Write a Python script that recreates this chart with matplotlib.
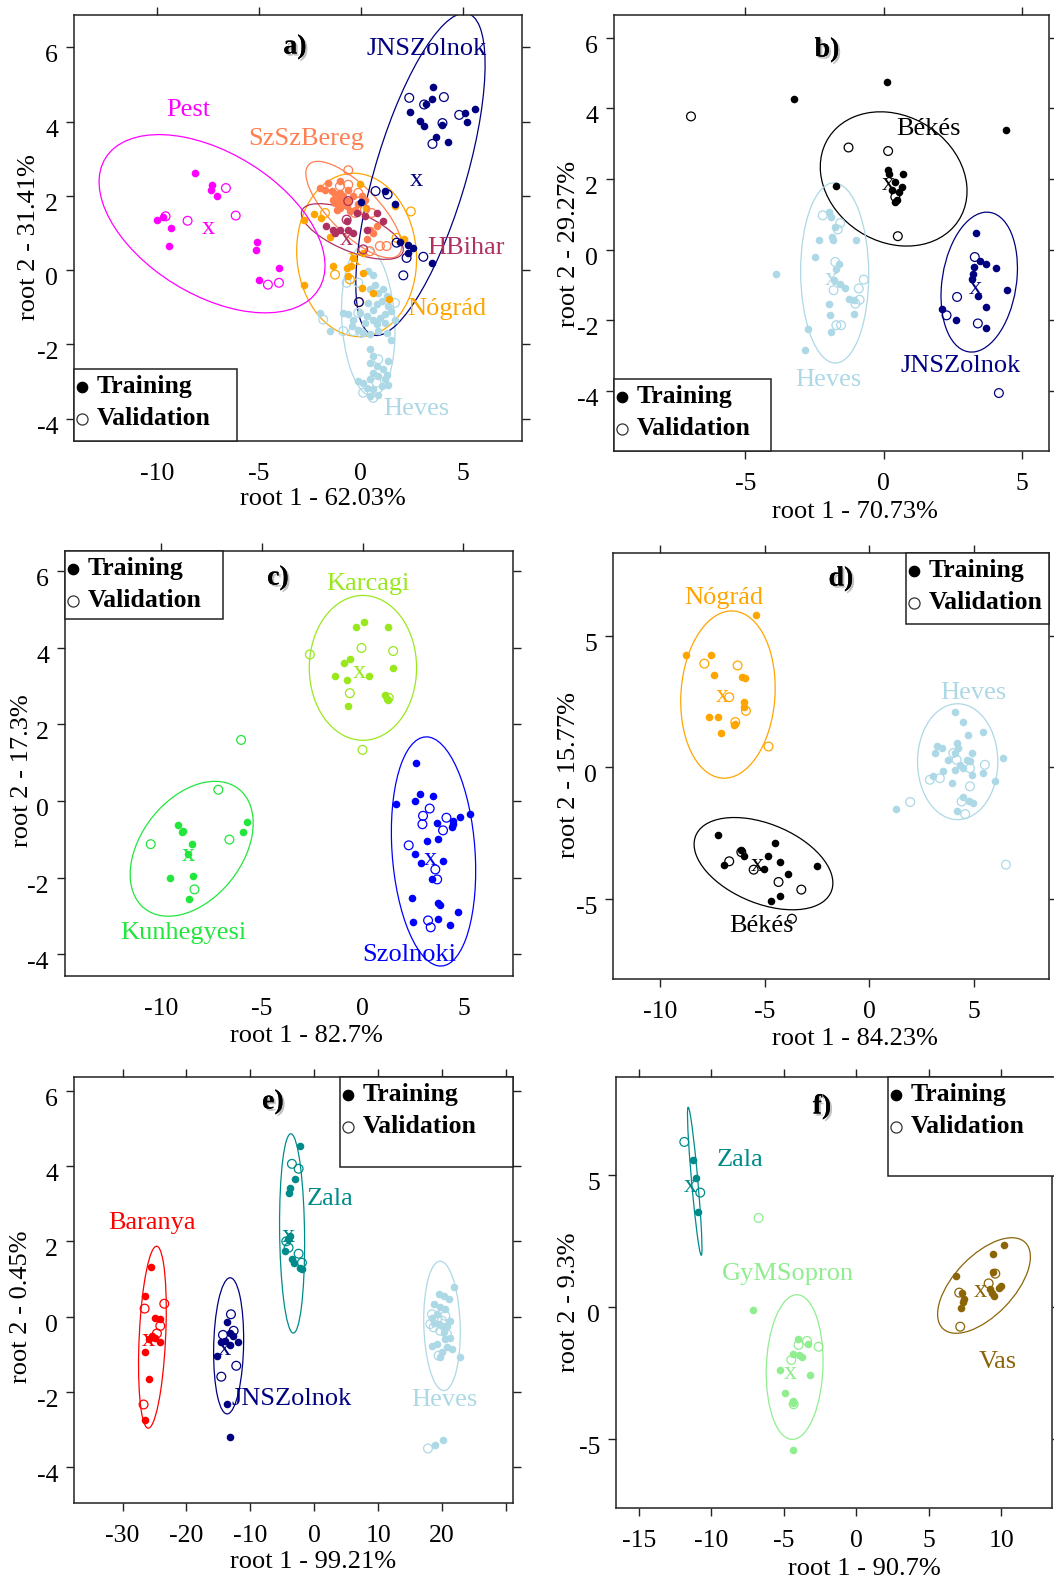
import numpy as np
import matplotlib.pyplot as plt
import matplotlib.transforms as transforms
import matplotlib.patheffects as pe
from matplotlib.patches import Ellipse, Rectangle

plt.rcParams['font.family'] = ['Liberation Serif', 'DejaVu Serif']
plt.rcParams['axes.unicode_minus'] = False

# ---------------- panel a ----------------
a_pest_tr = [(-8.14, 2.62), (-7.32, 2.30), (-7.37, 2.17), (-7.08, 2.01), (-10.02, 1.35), (-9.69, 1.43),
             (-9.32, 1.13), (-9.41, 0.66), (-5.11, 0.76), (-5.15, 0.54), (-4.0, 0.05), (-4.99, -0.27)]
a_pest_va = [(-6.62, 2.21), (-6.14, 1.47), (-8.5, 1.33), (-9.58, 1.45), (-4.56, -0.39), (-4.02, -0.34)]
a_jns_tr = [(3.55, 4.93), (3.50, 4.61), (3.19, 4.48), (2.43, 4.25), (2.92, 4.01), (3.10, 3.87), (4.0, 3.92),
            (5.10, 4.23), (5.59, 4.35), (5.18, 3.98), (3.68, 3.58), (4.28, 3.44), (1.18, 2.13), (0.0, 1.83),
            (1.67, 1.78), (1.91, 0.75), (2.32, 0.69), (2.57, 0.60), (2.32, 0.47), (3.51, 0.20)]
a_jns_va = [(2.37, 4.64), (3.10, 4.46), (4.07, 4.66), (4.82, 4.18), (4.0, 3.96), (3.51, 3.40), (0.72, 2.13),
            (1.31, 2.04), (1.75, 0.74), (2.24, 0.33), (3.06, 0.36), (2.08, -0.14), (-0.10, -0.86)]
a_szsz_tr = [(-1.60, 2.35), (-1.03, 2.39), (-1.44, 2.13), (-1.27, 2.04), (-1.03, 2.08), (-0.87, 1.99),
             (-0.78, 1.90), (-1.11, 1.90), (-0.62, 1.86), (-0.38, 1.99), (-1.76, 2.17), (-1.27, 1.81),
             (-0.95, 1.77), (-0.70, 1.72), (-0.54, 1.59), (-0.29, 1.63), (-1.19, 1.63), (-1.03, 1.68),
             (0.03, 1.99), (0.20, 1.90), (-0.62, 2.17), (-0.13, 1.77), (-1.36, 1.90), (-2.0, 2.21),
             (0.44, 1.09), (0.77, 1.18), (0.60, 1.0), (0.28, 0.83)]
a_szsz_va = [(-0.62, 2.69), (-1.03, 2.26), (-0.62, 2.30), (-0.13, 2.08), (-0.29, 1.54), (0.20, 1.63),
             (0.52, 1.54), (0.93, 0.65), (1.26, 0.65), (0.44, 0.51)]
a_hbihar_tr = [(-1.72, 1.18), (-1.36, 1.09), (-1.03, 1.09), (-0.70, 1.32), (-0.38, 1.0), (0.20, 1.45),
               (1.09, 1.32), (-0.21, 1.54), (-0.62, 1.09), (-1.27, 1.0), (0.28, 1.09), (0.77, 1.54)]
a_hbihar_va = [(-0.70, 1.36), (0.11, 0.56), (-0.62, 1.86)]
a_nograd_tr = [(-0.05, 2.32), (-2.30, 1.52), (-1.98, 1.41), (-2.78, 1.35), (-1.52, 0.90), (-1.36, 0.11),
               (-0.70, 0.06), (-0.51, 0.11), (-0.62, -0.16), (0.11, -0.07), (0.03, -0.48), (0.60, -0.61),
               (1.39, -0.77), (-2.78, -0.41), (1.67, 1.72), (2.11, 0.84), (0.25, 1.68), (-0.38, 0.33),
               (0.11, 0.47)]
a_nograd_va = [(-1.76, 1.54), (2.45, 1.58), (-1.27, -0.12), (-0.54, -0.25), (-0.08, -0.86), (1.75, 0.87)]
a_heves_tr = [(0.36, -0.03), (0.60, -0.12), (0.69, -0.39), (0.44, -0.52), (0.85, -0.61), (1.09, -0.52),
              (1.26, -0.70), (1.01, -0.83), (0.77, -0.92), (1.34, -0.97), (1.50, -1.10), (1.18, -1.19),
              (0.93, -1.28), (0.60, -1.33), (0.28, -1.24), (-0.05, -1.15), (-0.38, -1.33), (-0.62, -1.19),
              (-0.87, -1.15), (-0.46, -1.51), (-0.13, -1.60), (0.11, -1.69), (0.44, -1.73), (0.85, -1.64),
              (1.26, -1.69), (1.50, -1.87), (1.67, -1.33), (0.60, -1.06), (0.36, -0.88), (1.18, -1.42),
              (0.77, -1.46), (0.20, -1.42), (0.44, -2.13), (0.60, -2.31), (0.44, -2.49), (0.77, -2.58),
              (1.09, -2.67), (1.34, -2.45), (0.60, -2.76), (0.85, -2.85), (1.18, -2.94), (0.44, -2.94),
              (0.11, -3.03), (-0.13, -2.99), (0.28, -3.17), (0.60, -3.21), (1.01, -3.12), (1.34, -3.08),
              (0.85, -3.35), (0.44, -3.39), (1.26, -2.81), (-1.52, -1.64), (-2.0, -1.15)]
a_heves_va = [(-0.13, -0.34), (-0.87, -1.64), (-0.38, -1.64), (0.03, -1.69), (1.67, -0.88), (-0.13, -1.15),
              (0.85, -2.40), (0.77, -3.03), (0.11, -3.30), (0.60, -3.44), (-1.85, -1.33), (-0.70, -0.34)]
a_centroids = {'pest': (-7.48, 1.14), 'jns': (2.73, 2.44), 'hbihar': (-0.70, 0.84), 'nograd': (-0.30, 0.30)}
# ellipse: centre x, centre y, x spread, y spread, correlation
a_ellipses = {'pest': (-7.3, 1.25, 5.54, 2.40, -0.47), 'jns': (2.92, 2.58, 3.17, 4.34, 0.68),
              'szsz': (-0.35, 1.63, 2.35, 1.30, -0.75), 'hbihar': (-0.42, 1.04, 2.50, 0.75, -0.65),
              'nograd': (-0.21, 0.41, 2.94, 2.20, -0.05), 'heves': (0.36, -1.37, 1.31, 2.02, -0.15)}

# ---------------- panel b ----------------
b_bekes_tr = [(-3.25, 4.25), (0.12, 4.74), (4.42, 3.38), (-1.72, 1.79), (0.16, 2.25), (0.18, 2.15),
              (0.69, 2.15), (0.42, 1.92), (0.66, 1.77), (0.54, 1.63), (0.48, 1.40), (0.42, 1.35), (0.30, 1.68)]
b_bekes_va = [(-6.96, 3.77), (-1.27, 2.89), (0.16, 2.79), (0.51, 0.38), (0.42, 1.49)]
b_heves_tr = [(-1.99, 1.07), (-1.90, 0.92), (-1.75, 0.64), (-1.87, 0.36), (-1.83, 0.26), (-2.33, 0.28),
              (-0.99, 0.28), (-2.47, -0.21), (-3.88, -0.68), (-1.63, -0.40), (-1.71, -0.54), (-1.81, -0.87),
              (-1.57, -0.96), (-1.39, -1.10), (-1.27, -1.39), (-1.08, -1.42), (-1.99, -1.53), (-1.95, -1.86),
              (-1.08, -1.83), (-2.73, -2.26), (-1.89, -2.33), (-2.86, -2.85)]
b_heves_va = [(-2.20, 0.97), (-1.57, 0.75), (-1.66, 0.57), (-1.75, -0.35), (-0.72, -0.85), (-0.90, -1.10),
              (-1.81, -1.15), (-0.87, -1.42), (-1.02, -1.53), (-1.71, -2.14), (-1.54, -2.14)]
b_jns_tr = [(3.34, 0.47), (3.25, -0.49), (3.23, -0.68), (3.47, -0.33), (3.71, -0.42), (4.04, -0.52),
            (4.46, -1.15), (3.40, -1.30), (3.71, -1.62), (2.11, -1.67), (2.61, -2.0), (3.71, -2.21), (3.19, -0.82)]
b_jns_va = [(3.29, -0.21), (2.65, -1.34), (2.27, -1.86), (3.40, -2.09), (4.16, -4.06)]
b_centroids = {'bekes': (0.18, 1.87), 'heves': (-1.90, -0.82), 'jns': (3.31, -1.08)}
b_ellipses = {'bekes': (0.36, 2.0, 2.65, 1.90, -0.18), 'heves': (-1.77, -0.66, 1.23, 2.55, -0.02),
              'jns': (3.45, -0.92, 1.38, 1.98, 0.20)}

# ---------------- panel c ----------------
c_karcagi_tr = [(-0.30, 4.53), (0.08, 4.66), (1.24, 4.53), (-0.91, 3.59), (-0.63, 3.70), (1.49, 3.47),
                (-1.37, 3.25), (-0.79, 3.16), (0.33, 3.25), (1.11, 2.77), (1.27, 2.62), (-0.71, 2.47), (1.22, 2.66)]
c_karcagi_va = [(-2.61, 3.82), (-0.05, 3.99), (1.52, 3.91), (-0.63, 2.81), (1.30, 2.69), (0.0, 1.33)]
c_kun_tr = [(-9.13, -0.64), (-8.96, -0.81), (-8.88, -0.78), (-8.47, -1.13), (-8.63, -1.38), (-9.54, -2.01),
            (-8.38, -1.96), (-8.58, -2.55), (-5.74, -0.55), (-5.91, -0.80)]
c_kun_va = [(-10.50, -1.13), (-7.15, 0.29), (-6.60, -1.01), (-8.33, -2.31), (-6.02, 1.59)]
c_szol_tr = [(2.67, 0.98), (2.87, 0.17), (3.50, 0.13), (2.59, 0.0), (1.68, -0.07), (3.70, -0.59), (4.49, -0.52),
             (4.82, -0.42), (5.31, -0.35), (4.46, -0.68), (3.22, -1.05), (3.75, -0.99), (2.62, -1.39),
             (2.92, -1.61), (3.99, -1.57), (3.45, -2.05), (2.46, -2.53), (3.75, -2.66), (3.83, -2.73),
             (4.74, -2.89), (2.51, -3.16), (3.75, -3.07), (4.36, -3.24), (4.49, -0.61)]
c_szol_va = [(3.33, -0.20), (3.0, -0.39), (2.97, -0.61), (4.16, -0.44), (3.99, -0.77), (2.29, -1.16),
             (3.61, -1.79), (3.70, -2.05), (3.25, -3.12), (3.38, -3.30)]
c_centroids = {'karcagi': (-0.17, 3.36), 'kun': (-8.63, -1.40), 'szol': (3.38, -1.53)}
c_ellipses = {'karcagi': (0.02, 3.47, 2.66, 1.89, 0.0), 'kun': (-8.47, -1.25, 3.05, 1.76, 0.38),
              'szol': (3.52, -1.32, 2.09, 2.99, -0.17)}

# ---------------- panel d ----------------
d_nograd_tr = [(-5.44, 5.82), (-8.76, 4.29), (-7.58, 4.29), (-7.42, 3.51), (-6.09, 3.44), (-5.96, 3.41),
               (-6.01, 2.49), (-6.01, 2.29), (-7.66, 1.91), (-7.26, 1.91), (-6.41, 1.65), (-7.08, 1.31), (-6.46, 1.63)]
d_nograd_va = [(-7.89, 3.96), (-6.30, 3.89), (-6.70, 2.68), (-5.90, 2.16), (-6.41, 1.73), (-4.82, 0.80)]
d_bekes_tr = [(-7.24, -2.57), (-6.12, -3.14), (-6.01, -3.39), (-6.94, -3.74), (-4.86, -3.39), (-4.53, -2.88),
              (-4.29, -3.61), (-5.02, -3.86), (-3.89, -4.05), (-2.49, -3.77), (-4.29, -4.89), (-4.69, -5.08)]
d_bekes_va = [(-6.70, -3.58), (-6.12, -3.23), (-5.53, -3.90), (-4.34, -4.37), (-3.25, -4.66), (-3.70, -5.77)]
d_heves_tr = [(4.10, 2.13), (4.50, 1.75), (4.74, 1.25), (5.42, 1.35), (3.22, 0.80), (3.46, 0.74), (3.14, 0.55),
              (4.18, 0.93), (4.26, 0.74), (4.10, 0.55), (4.90, 0.55), (4.66, 0.29), (3.78, 0.29), (4.34, 0.10),
              (4.50, -0.03), (4.10, -0.09), (3.54, -0.15), (3.06, -0.34), (3.94, -0.60), (5.45, -0.22),
              (6.01, -0.53), (6.41, 0.36), (4.90, -0.28), (4.50, -1.11), (4.98, -1.36), (4.82, 0.23),
              (1.29, -1.58), (4.75, -1.27), (4.19, -1.68)]
d_heves_va = [(4.02, 0.55), (4.18, 0.29), (5.53, 0.10), (4.82, -0.03), (3.38, -0.41), (2.90, -0.47),
              (4.82, -0.72), (4.42, -1.30), (1.96, -1.32), (6.54, -3.71), (4.59, -1.78)]
d_centroids = {'nograd': (-7.05, 2.74), 'bekes': (-5.37, -3.71)}
d_ellipses = {'nograd': (-6.76, 2.78, 2.26, 3.19, 0.08), 'bekes': (-5.06, -3.67, 3.32, 1.76, -0.42),
              'heves': (4.23, 0.22, 1.92, 2.21, 0.0)}

# ---------------- panel e ----------------
e_baranya_tr = [(-25.56, 1.32), (-26.45, 0.55), (-24.88, -0.05), (-24.10, -0.07), (-25.40, -0.51),
                (-24.88, -0.56), (-24.20, -0.69), (-26.55, -0.95), (-25.82, -1.66), (-26.45, -2.74), (-25.93, -0.60)]
e_baranya_va = [(-26.55, 0.21), (-23.47, 0.34), (-24.10, -0.25), (-24.62, -0.45), (-26.71, -2.34)]
e_jns_tr = [(-13.67, -0.14), (-14.55, -0.69), (-13.15, -0.44), (-12.78, -0.51), (-11.95, -0.69),
            (-13.25, -0.76), (-15.23, -1.04), (-13.67, -2.34), (-13.25, -3.20), (-13.93, -0.64)]
e_jns_va = [(-13.04, 0.06), (-14.29, -0.49), (-12.62, -0.38), (-12.21, -1.31), (-14.55, -1.60)]
e_zala_tr = [(-2.19, 4.54), (-2.97, 3.66), (-3.86, 3.42), (-3.96, 3.28), (-3.76, 2.14), (-4.54, 1.74),
             (-3.50, 1.52), (-3.23, 1.43), (-2.19, 1.30), (-1.93, 1.27), (-4.17, 2.05)]
e_zala_va = [(-3.50, 4.06), (-2.45, 3.93), (-4.38, 2.0), (-4.02, 1.83), (-2.45, 1.67), (-1.93, 1.43)]
e_heves_tr = [(21.80, 0.79), (19.46, 0.59), (20.24, 0.55), (21.02, 0.46), (18.68, 0.33), (19.72, 0.24),
              (20.50, 0.19), (19.20, 0.06), (18.41, -0.03), (18.68, -0.16), (19.46, -0.20), (19.98, -0.25),
              (20.76, -0.25), (21.28, -0.11), (20.24, -0.42), (21.28, -0.56), (20.50, -0.60), (19.20, -0.73),
              (18.41, -0.78), (20.76, -0.82), (19.98, -0.95), (21.54, -0.86), (19.72, -1.09), (22.85, -1.09),
              (18.94, -3.41), (20.14, -3.29)]
e_heves_va = [(18.41, 0.06), (19.20, -0.07), (19.98, -0.11), (20.50, 0.02), (18.15, -0.20), (18.68, -0.29),
              (19.72, -0.38), (20.76, -0.47), (19.46, -1.04), (17.79, -3.51)]
e_centroids = {'baranya': (-25.93, -0.63), 'jns': (-14.08, -0.86), 'zala': (-4.02, 2.14)}
e_ellipses = {'baranya': (-25.33, -0.55, 2.17, 2.42, 0.30), 'jns': (-13.4, -0.78, 2.35, 1.81, 0.10),
              'zala': (-3.47, 2.21, 1.96, 2.65, -0.10), 'heves': (19.99, -0.25, 2.86, 1.72, -0.10)}

# ---------------- panel f ----------------
f_zala_tr = [(-11.26, 5.54), (-11.06, 4.86), (-10.94, 3.60)]
f_zala_va = [(-11.86, 6.24), (-10.76, 4.32)]
f_gym_tr = [(-7.15, -0.13), (-4.05, -1.21), (-3.36, -1.43), (-4.39, -1.81), (-3.98, -1.84), (-3.75, -1.89),
            (-5.29, -2.42), (-3.22, -2.60), (-4.90, -3.26), (-4.39, -3.57), (-4.39, -5.43), (-4.39, -3.64)]
f_gym_va = [(-6.74, 3.36), (-3.40, -1.30), (-3.98, -1.45), (-2.60, -1.52), (-4.48, -2.02), (-4.32, -3.70)]
f_vas_tr = [(10.16, 2.32), (9.43, 1.98), (6.87, 1.16), (9.40, 1.31), (7.29, 0.53), (7.40, 0.30), (7.33, 0.18),
            (7.22, -0.04), (9.24, 0.68), (9.47, 0.40), (9.82, 0.72), (9.98, 0.78), (9.36, 0.53)]
f_vas_va = [(9.59, 1.25), (9.13, 0.88), (7.10, 0.53), (7.17, -0.76)]
f_centroids = {'zala': (-11.45, 4.57), 'gym': (-4.51, -2.53), 'vas': (8.55, 0.59)}
f_ellipses = {'zala': (-11.14, 4.75, 0.50, 2.81, -0.90), 'gym': (-4.25, -2.29, 1.96, 2.74, 0.08),
              'vas': (8.81, 0.80, 3.20, 1.81, 0.60)}

COL = {'pest': '#FF00FF', 'jns': '#000080', 'szsz': '#FF7F50', 'hbihar': '#B03060', 'nograd': '#FFA500',
       'heves': '#ADD8E6', 'bekes': '#000000', 'karcagi': '#99E81E', 'kun': '#22E63C', 'szol': '#0000FF',
       'baranya': '#FF0000', 'zala': '#008B8B', 'gym': '#90EE90', 'vas': '#8B6508'}

FS = 18.5

fig = plt.figure(figsize=(10.54, 15.8), dpi=100)


def px_axes(l, t, r, b):
    return fig.add_axes([l / 1054, 1 - b / 1580, (r - l) / 1054, (b - t) / 1580])


def ellipse(ax, params, color):
    cx, cy, sx, sy, rho = params
    e = Ellipse((0, 0), width=2 * np.sqrt(1 + rho), height=2 * np.sqrt(1 - rho),
                fc='none', ec=color, lw=0.9, zorder=2)
    tr = transforms.Affine2D().rotate_deg(45).scale(sx, sy).translate(cx, cy)
    e.set_transform(tr + ax.transData)
    ax.add_patch(e)


def group(ax, key, tr, va, centroids, ellipses):
    c = COL[key]
    tr = np.array(tr)
    va = np.array(va)
    ax.scatter(tr[:, 0], tr[:, 1], s=30, color=c, lw=0, zorder=3)
    ax.scatter(va[:, 0], va[:, 1], s=40, facecolors='none', edgecolors=c, lw=0.9, zorder=3)
    if key in centroids:
        ax.text(*centroids[key], 'x', color=c, fontsize=19, ha='center', va='center', zorder=4)
    if key in ellipses:
        ellipse(ax, ellipses[key], c)


def frame(ax, xlim, ylim, xticks, yticks, xlabel, ylabel, xlab, ylab, bottom=True, xticklabels=None):
    ax.set_xlim(xlim)
    ax.set_ylim(ylim)
    ax.set_xticks(xticks, xticklabels if xticklabels else [str(t) for t in xticks])
    ax.set_yticks(yticks, [])
    ax.tick_params(direction='out', length=6, width=1, top=True, right=True, bottom=bottom,
                   labelsize=FS, pad=9.5, colors='#222222', labelcolor='black')
    for s in ax.spines.values():
        s.set_linewidth(1.1)
        s.set_color('#222222')
    # y tick labels drawn a little below their ticks, as in the original
    tr = transforms.blended_transform_factory(ax.transAxes, ax.transData) + \
        transforms.ScaledTranslation(-0.16, -0.09, fig.dpi_scale_trans)
    for t in yticks:
        ax.text(0, t, str(t), transform=tr, ha='right', va='center', fontsize=FS, clip_on=False)
    ax.set_xlabel(xlabel, fontsize=19)
    ax.set_ylabel(ylabel, fontsize=19)
    ax.xaxis.set_label_coords(*xlab)
    ax.yaxis.set_label_coords(*ylab)


def legend(ax, l, t, r, b):
    ax.add_patch(Rectangle((l / 1054, 1 - b / 1580), (r - l) / 1054, (b - t) / 1580, transform=fig.transFigure,
                           fc='white', ec='#222222', lw=1.1, zorder=8, clip_on=False))
    for dy, txt, fc in [(18, 'Training', 'black'), (49.5, 'Validation', 'none')]:
        y = 1 - (t + dy) / 1580
        ax.plot([(l + 8) / 1054], [y], 'o', ms=7.5 if fc == 'black' else 8, mfc=fc,
                mec='#333333' if fc == 'none' else 'black',
                mew=0.9, transform=fig.transFigure, zorder=9, clip_on=False)
        ax.text((l + 23) / 1054, y, txt, transform=fig.transFigure, fontsize=FS, fontweight='bold',
                ha='left', va='center', zorder=9)


def panel_letter(x, y, s):
    fig.text(x / 1054, 1 - y / 1580, s, fontsize=20, fontweight='bold', ha='center', va='center',
             path_effects=[pe.withSimplePatchShadow(offset=(1.5, -1.5), shadow_rgbFace='#999999', alpha=0.6),
                           pe.Normal()])


def label(ax, x, y, s, key):
    ax.text(x, y, s, color=COL[key], fontsize=19, ha='center', va='center', zorder=5)


# ---- a ----
ax = px_axes(74, 15, 522, 441)
group(ax, 'heves', a_heves_tr, a_heves_va, a_centroids, a_ellipses)
group(ax, 'nograd', a_nograd_tr, a_nograd_va, a_centroids, a_ellipses)
group(ax, 'szsz', a_szsz_tr, a_szsz_va, a_centroids, a_ellipses)
group(ax, 'hbihar', a_hbihar_tr, a_hbihar_va, a_centroids, a_ellipses)
group(ax, 'jns', a_jns_tr, a_jns_va, a_centroids, a_ellipses)
group(ax, 'pest', a_pest_tr, a_pest_va, a_centroids, a_ellipses)
label(ax, -8.46, 4.3, 'Pest', 'pest')
label(ax, 3.22, 5.95, 'JNSZolnok', 'jns')
label(ax, -2.66, 3.53, 'SzSzBereg', 'szsz')
label(ax, 5.15, 0.6, 'HBihar', 'hbihar')
label(ax, 4.2, -1.04, 'Nógrád', 'nograd')
label(ax, 2.70, -3.73, 'Heves', 'heves')
frame(ax, (-14.07, 7.9), (-4.6, 6.87), [-10, -5, 0, 5], [-4, -2, 0, 2, 4, 6],
      'root 1 - 62.03%', 'root 2 - 31.41%', (0.556, -0.11), (-0.076, 0.479), bottom=False)
legend(ax, 74, 369, 237, 441)
panel_letter(295, 47, 'a)')

# ---- b ----
ax = px_axes(614, 15, 1049, 451)
group(ax, 'bekes', b_bekes_tr, b_bekes_va, b_centroids, b_ellipses)
group(ax, 'heves', b_heves_tr, b_heves_va, b_centroids, b_ellipses)
group(ax, 'jns', b_jns_tr, b_jns_va, b_centroids, b_ellipses)
label(ax, 1.63, 3.40, 'Békés', 'bekes')
label(ax, -1.99, -3.70, 'Heves', 'heves')
label(ax, 2.77, -3.30, 'JNSZolnok', 'jns')
frame(ax, (-9.74, 5.97), (-5.7, 6.64), [-5, 0, 5], [-4, -2, 0, 2, 4, 6],
      'root 1 - 70.73%', 'root 2 - 29.27%', (0.555, -0.115), (-0.079, 0.476))
legend(ax, 614, 379, 771, 451)
panel_letter(827, 50, 'b)')

# ---- c ----
ax = px_axes(65, 551, 513, 976)
group(ax, 'karcagi', c_karcagi_tr, c_karcagi_va, c_centroids, c_ellipses)
group(ax, 'kun', c_kun_tr, c_kun_va, c_centroids, c_ellipses)
group(ax, 'szol', c_szol_tr, c_szol_va, c_centroids, c_ellipses)
label(ax, 0.25, 5.67, 'Karcagi', 'karcagi')
label(ax, -8.88, -3.44, 'Kunhegyesi', 'kun')
label(ax, 2.34, -4.01, 'Szolnoki', 'szol')
frame(ax, (-14.75, 7.46), (-4.57, 6.52), [-10, -5, 0, 5], [-4, -2, 0, 2, 4, 6],
      'root 1 - 82.7%', 'root 2 - 17.3%', (0.539, -0.115), (-0.071, 0.484), bottom=False)
legend(ax, 65, 551, 223, 619)
panel_letter(278, 578, 'c)')

# ---- d ----
ax = px_axes(613, 553, 1049, 979)
group(ax, 'nograd', d_nograd_tr, d_nograd_va, d_centroids, d_ellipses)
group(ax, 'bekes', d_bekes_tr, d_bekes_va, d_centroids, d_ellipses)
group(ax, 'heves', d_heves_tr, d_heves_va, d_centroids, d_ellipses)
label(ax, -6.94, 6.48, 'Nógrád', 'nograd')
label(ax, -5.14, -6.06, 'Békés', 'bekes')
label(ax, 4.99, 2.83, 'Heves', 'heves')
frame(ax, (-12.26, 8.6), (-8.07, 8.18), [-10, -5, 0, 5], [-5, 0, 5],
      'root 1 - 84.23%', 'root 2 - 15.77%', (0.555, -0.115), (-0.076, 0.478))
legend(ax, 906, 553, 1049, 624)
panel_letter(841, 579, 'd)')

# ---- e ----
ax = px_axes(74, 1077, 513, 1503)
group(ax, 'baranya', e_baranya_tr, e_baranya_va, e_centroids, e_ellipses)
group(ax, 'jns', e_jns_tr, e_jns_va, e_centroids, e_ellipses)
group(ax, 'zala', e_zala_tr, e_zala_va, e_centroids, e_ellipses)
group(ax, 'heves', e_heves_tr, e_heves_va, e_centroids, e_ellipses)
label(ax, -25.40, 2.49, 'Baranya', 'baranya')
label(ax, -3.50, -2.19, 'JNSZolnok', 'jns')
label(ax, 2.40, 3.12, 'Zala', 'zala')
label(ax, 20.40, -2.21, 'Heves', 'heves')
frame(ax, (-37.6, 31.1), (-4.96, 6.37), [-30, -20, -10, 0, 10, 20, 30], [-4, -2, 0, 2, 4, 6],
      'root 1 - 99.21%', 'root 2 - 0.45%', (0.545, -0.112), (-0.096, 0.461),
      xticklabels=['-30', '-20', '-10', '0', '10', '20', ''])
legend(ax, 340, 1077, 513, 1167)
panel_letter(273, 1102, 'e)')

# ---- f ----
ax = px_axes(616, 1077, 1052, 1508)
group(ax, 'zala', f_zala_tr, f_zala_va, f_centroids, f_ellipses)
group(ax, 'gym', f_gym_tr, f_gym_va, f_centroids, f_ellipses)
group(ax, 'vas', f_vas_tr, f_vas_va, f_centroids, f_ellipses)
label(ax, -8.0, 5.54, 'Zala', 'zala')
label(ax, -4.71, 1.22, 'GyMSopron', 'gym')
label(ax, 9.75, -2.10, 'Vas', 'vas')
frame(ax, (-16.57, 13.5), (-7.63, 8.7), [-15, -10, -5, 0, 5, 10], [-5, 0, 5],
      'root 1 - 90.7%', 'root 2 - 9.3%', (0.569, -0.116), (-0.083, 0.478))
legend(ax, 888, 1077, 1060, 1176)
panel_letter(822, 1107, 'f)')

fig.savefig('out.png', dpi=100)
